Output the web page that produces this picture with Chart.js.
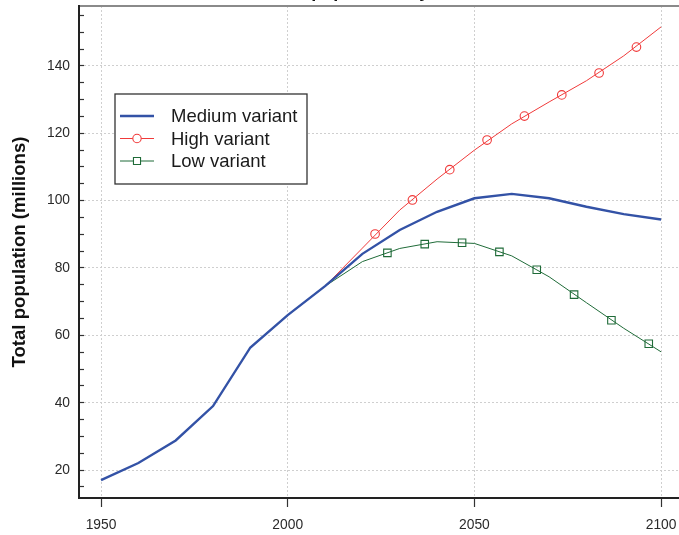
<!DOCTYPE html>
<html>
<head>
<meta charset="utf-8">
<script src="https://cdn.jsdelivr.net/npm/chart.js@4.4.1/dist/chart.umd.min.js"></script>
<style>
  html, body { margin: 0; padding: 0; background: #fff; overflow: hidden; }
  #wrap { position: absolute; left: 0; top: -22px; width: 679px; height: 557px; }
</style>
</head>
<body>
<div id="wrap"><canvas id="popchart"></canvas></div>
<script>
// Values (millions)
const years = [1950, 1960, 1970, 1980, 1990, 2000, 2010, 2020, 2030, 2040, 2050, 2060, 2070, 2080, 2090, 2100];
const medium = [17.0, 22.1, 28.8, 39.0, 56.4, 66.0, 74.6, 84.2, 91.3, 96.7, 100.7, 102.0, 100.7, 98.2, 96.0, 94.4];

const projYears = [2010, 2020, 2030, 2040, 2050, 2060, 2070, 2080, 2090, 2100];
const high = [74.6, 85.9, 97.2, 106.4, 115.0, 122.8, 129.3, 135.6, 143.0, 151.6];
const low = [74.6, 81.9, 85.8, 87.8, 87.3, 83.6, 77.4, 69.7, 62.1, 55.1];

// marker positions along the projection curves
const highMarkYears = [2023.4, 2033.4, 2043.4, 2053.4, 2063.4, 2073.4, 2083.4, 2093.4];
const highMarks = [90.1, 100.2, 109.2, 118.0, 125.1, 131.4, 137.9, 145.6];
const lowMarkYears = [2026.7, 2036.7, 2046.7, 2056.7, 2066.7, 2076.7, 2086.7, 2096.7];
const lowMarks = [84.5, 87.1, 87.5, 84.8, 79.5, 72.1, 64.5, 57.5];

const seriesNames = ['Medium variant', 'High variant', 'Low variant'];
const chartTitle = 'Total population by variant';
const yTitle = 'Total population (millions)';

const BLUE = '#3352a6';
const RED = '#f03a3a';
const GREEN = '#1f6b38';
const FONT = "'Liberation Sans', Arial, Helvetica, sans-serif";

function pts(xs, ys) {
    return xs.map((x, i) => ({ x: x, y: ys[i] }));
}

// legend drawn like the original: line sample with marker inside a framed box
const boxLegend = {
    id: 'boxLegend',
    afterDraw(chart) {
        const c = chart.ctx;
        const top = 94 + 22;
        c.save();
        c.fillStyle = '#fff';
        c.fillRect(115, top, 192, 90);
        c.strokeStyle = '#333';
        c.lineWidth = 1.3;
        c.strokeRect(115, top, 192, 90);
        const rows = [
            { color: BLUE, width: 2.3, marker: null },
            { color: RED, width: 1, marker: 'circle' },
            { color: GREEN, width: 1, marker: 'rect' }
        ];
        rows.forEach((r, i) => {
            const y = top + 22 + i * 22.5;
            c.strokeStyle = r.color;
            c.lineWidth = r.width;
            c.beginPath();
            c.moveTo(120, y);
            c.lineTo(154, y);
            c.stroke();
            if (r.marker) {
                c.fillStyle = '#fff';
                c.strokeStyle = r.color;
                c.lineWidth = 1.1;
                Chart.helpers.drawPoint(c, { pointStyle: r.marker, radius: r.marker === 'rect' ? 5 : 4.2, borderWidth: 1.1 }, 137, y);
            }
            c.fillStyle = '#1a1a1a';
            c.font = '18.5px ' + FONT;
            c.textBaseline = 'middle';
            c.textAlign = 'left';
            c.fillText(seriesNames[i], 171, y + 1);
        });
        c.restore();
    }
};

const data = {
    datasets: [
        {
            label: seriesNames[0],
            data: pts(years, medium),
            borderColor: BLUE,
            borderWidth: 2.4,
            pointRadius: 0,
            tension: 0
        },
        {
            label: seriesNames[1],
            data: pts(projYears, high),
            borderColor: RED,
            borderWidth: 1,
            pointRadius: 0,
            tension: 0
        },
        {
            label: seriesNames[2],
            data: pts(projYears, low),
            borderColor: GREEN,
            borderWidth: 1,
            pointRadius: 0,
            tension: 0
        },
        {
            label: 'high marks',
            data: pts(highMarkYears, highMarks),
            showLine: false,
            pointStyle: 'circle',
            pointRadius: 4.3,
            pointBorderWidth: 1.1,
            pointBorderColor: RED,
            pointBackgroundColor: 'transparent'
        },
        {
            label: 'low marks',
            data: pts(lowMarkYears, lowMarks),
            showLine: false,
            pointStyle: 'rect',
            pointRadius: 5.3,
            pointBorderWidth: 1.1,
            pointBorderColor: GREEN,
            pointBackgroundColor: 'transparent'
        }
    ]
};

const options = {
    responsive: true,
    maintainAspectRatio: false,
    animation: false,
    layout: { autoPadding: false, padding: { left: 0, right: 0, top: 0, bottom: 0 } },
    scales: {
        x: {
            type: 'linear',
            position: 'bottom',
            min: 1944.1,
            max: 2104.8,
            afterFit(scale) {
                scale.height = 37;
                scale.paddingLeft = 0;
                scale.paddingRight = 0;
            },
            ticks: {
                stepSize: 50,
                includeBounds: false,
                autoSkip: false,
                maxRotation: 0,
                padding: 10,
                color: '#2a2a2a',
                font: { family: FONT, size: 13.8 },
                callback: v => String(v)
            },
            grid: {
                color: '#cfcfcf',
                lineWidth: 1,
                tickLength: 9,
                tickColor: '#333',
                tickWidth: 1.2
            },
            border: { display: true, color: '#222', width: 2, dash: [2, 2] }
        },
        xTop: {
            type: 'linear',
            position: 'top',
            min: 1944.1,
            max: 2104.8,
            afterFit(scale) {
                scale.height = 0;
                scale.paddingLeft = 0;
                scale.paddingRight = 0;
            },
            ticks: { display: false },
            grid: { display: false, drawTicks: false },
            border: { display: true, color: '#8a8a8a', width: 2 }
        },
        y: {
            min: 11.7,
            max: 157.8,
            afterFit(scale) {
                scale.width = 79;
                scale.paddingTop = 0;
                scale.paddingBottom = 0;
            },
            ticks: {
                stepSize: 5,
                includeBounds: false,
                autoSkip: false,
                padding: 14,
                color: '#2a2a2a',
                font: { family: FONT, size: 13.8 },
                callback: v => (v % 20 === 0 ? String(v) : '')
            },
            grid: {
                color: ctx => (ctx.tick && ctx.tick.value % 20 === 0 ? '#cfcfcf' : 'rgba(0,0,0,0)'),
                lineWidth: 1,
                tickLength: -5,
                tickColor: '#333',
                tickWidth: 1.2
            },
            border: { display: true, color: '#222', width: 2, dash: [2, 2] },
            title: {
                display: true,
                text: yTitle,
                color: '#111',
                font: { family: FONT, size: 18.6, weight: 'bold' },
                padding: { top: 9, bottom: 0 }
            }
        }
    },
    plugins: {
        legend: { display: false },
        tooltip: { enabled: false },
        title: {
            display: true,
            fullSize: false,
            text: chartTitle,
            color: '#111',
            font: { family: FONT, size: 18, weight: 'bold' },
            padding: { top: 3, bottom: 3.4 }
        }
    }
};

new Chart(document.getElementById('popchart').getContext('2d'), {
    type: 'line',
    data: data,
    options: options,
    plugins: [boxLegend]
});
</script>
</body>
</html>
